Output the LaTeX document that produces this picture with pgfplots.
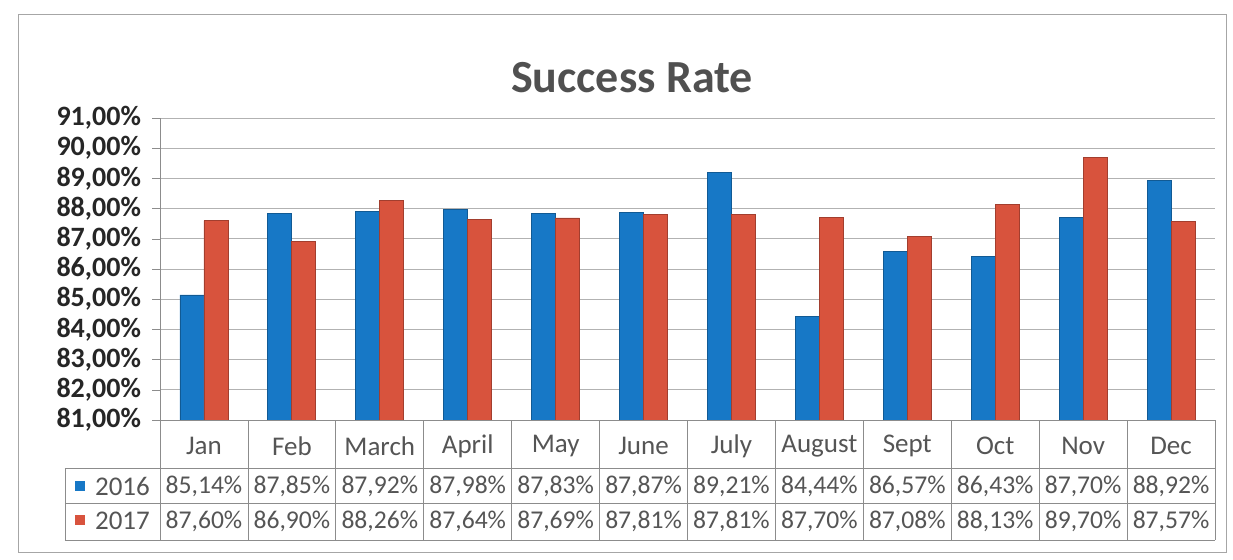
\documentclass[border=0pt]{standalone}
\usepackage{fontspec}
\setmainfont{Carlito}
\usepackage{pgfplots}
\usepackage{pgfplotstable}
\pgfplotsset{compat=1.18}
\definecolor{bar16}{HTML}{1778C6}
\definecolor{bar17}{HTML}{D8533D}
\definecolor{titlegray}{HTML}{505050}
\definecolor{tabtext}{HTML}{555555}
\definecolor{tabline}{HTML}{8C8C8C}

\pgfplotstableread{
idx month v16 v17
0 Jan 85.14 87.60
1 Feb 87.85 86.90
2 March 87.92 88.26
3 April 87.98 87.64
4 May 87.83 87.69
5 June 87.87 87.81
6 July 89.21 87.81
7 August 84.44 87.70
8 Sept 86.57 87.08
9 Oct 86.43 88.13
10 Nov 87.70 89.70
11 Dec 88.92 87.57
}\rates

\begin{document}
\begin{tikzpicture}
\begin{axis}[
  scale only axis,
  width=527.5pt, height=151pt,
  ymin=81, ymax=91, ytick={81,82,...,91},
  xmin=-0.5, xmax=11.5, xtick=\empty,
  ybar, bar width=12pt,
  axis x line*=bottom, axis y line*=left,
  axis line style={tabline},
  ymajorgrids, grid style={black!30},
  tick style={tabline}, tick align=outside, major tick length=4pt,
  /pgf/number format/assume math mode=true,
  yticklabel={\pgfmathprintnumber[fixed,fixed zerofill,precision=2,use comma]{\tick}\%},
  yticklabel style={font=\fontsize{14}{14}\selectfont\bfseries, text=black!85, xshift=-2pt},
]
\addplot[fill=bar16, draw=bar16!75!black, bar shift=-6pt] table[x=idx,y=v16]{\rates};
\addplot[fill=bar17, draw=bar17!75!black, bar shift=6pt] table[x=idx,y=v17]{\rates};
\end{axis}

% pixel-like scope: (160,420) is the lower left corner of the plot area
\begin{scope}[x=0.5pt,y=-0.5pt,shift={(-80pt,210pt)}]
  \path (0,0) rectangle (1233,559);
  \draw[black!35] (18,14) rectangle (1226,552);
  \node[text=titlegray, font=\fontsize{23}{23}\selectfont\bfseries] at (632,78) {Success Rate};

  % data table
  \draw[tabline] (160,420) -- (1215,420);
  \draw[tabline] (65,468) -- (1215,468);
  \draw[tabline] (65,503) -- (1215,503);
  \draw[tabline] (65,540) -- (1215,540);
  \draw[tabline] (65,468) -- (65,540);
  \foreach \k in {0,...,12}
    \draw[tabline] ({160+\k*87.917},420) -- ({160+\k*87.917},540);

  \fill[bar16] (75,481) rectangle (85,491);
  \fill[bar17] (75,515) rectangle (85,525);
  \node[anchor=west, text=tabtext, font=\fontsize{13.5}{16}\selectfont] at (88,486) {2016};
  \node[anchor=west, text=tabtext, font=\fontsize{13.5}{16}\selectfont] at (88,521) {2017};

  \foreach \i in {0,...,11}{
    \pgfplotstablegetelem{\i}{month}\of\rates
    \node[text=tabtext, font=\fontsize{13.5}{16}\selectfont] at ({160+(\i+0.5)*87.917},446) {\pgfplotsretval};
    \pgfplotstablegetelem{\i}{v16}\of\rates
    \node[text=tabtext, font=\fontsize{12.8}{16}\selectfont] at ({160+(\i+0.5)*87.917},486)
      {\pgfmathprintnumber[fixed,fixed zerofill,precision=2,use comma,assume math mode=true]{\pgfplotsretval}\%};
    \pgfplotstablegetelem{\i}{v17}\of\rates
    \node[text=tabtext, font=\fontsize{12.8}{16}\selectfont] at ({160+(\i+0.5)*87.917},521)
      {\pgfmathprintnumber[fixed,fixed zerofill,precision=2,use comma,assume math mode=true]{\pgfplotsretval}\%};
  }
\end{scope}
\end{tikzpicture}
\end{document}
